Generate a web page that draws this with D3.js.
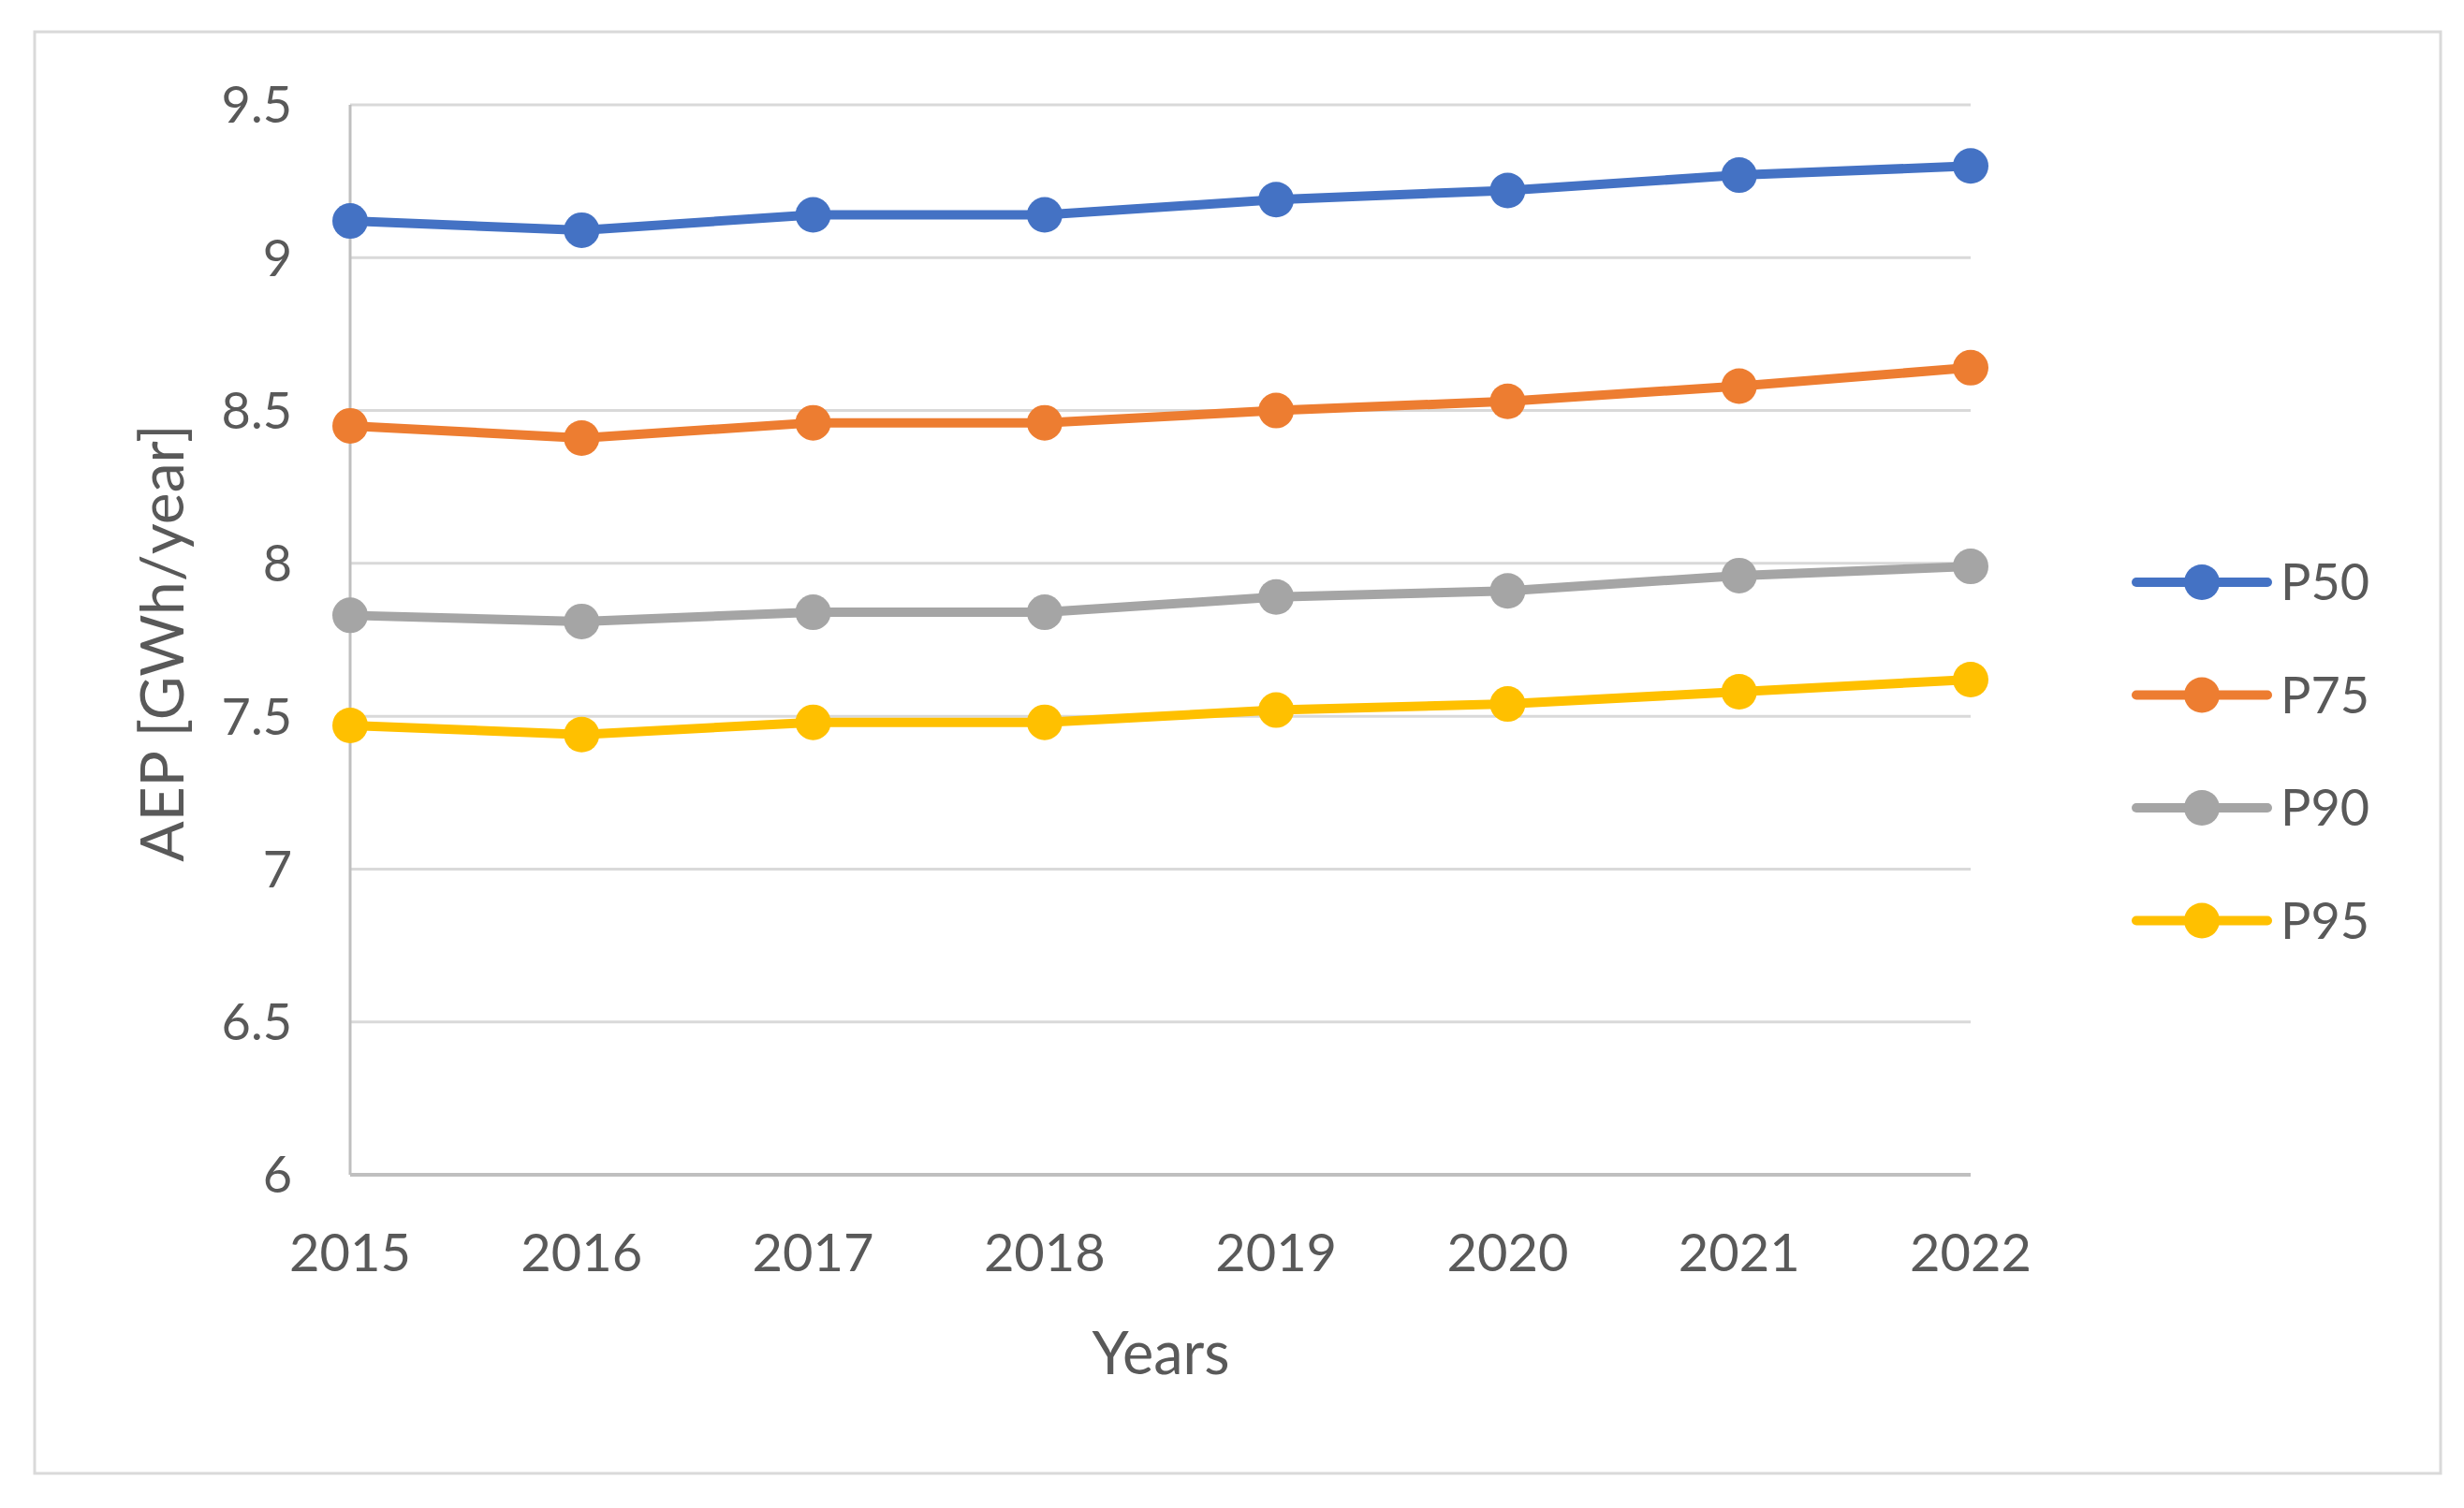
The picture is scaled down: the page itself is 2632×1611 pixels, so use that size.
<!DOCTYPE html>
<html>
<head>
<meta charset="utf-8">
<script src="https://cdn.jsdelivr.net/npm/d3@7"></script>
<style>
  body { margin: 0; background: #fff; }
  text { font-family: Lato, "Open Sans", sans-serif; fill: #595959; }
</style>
</head>
<body>
<script>
var years = ["2015", "2016", "2017", "2018", "2019", "2020", "2021", "2022"];
var seriesNames = ["P50", "P75", "P90", "P95"];
var p50 = [9.12, 9.09, 9.14, 9.14, 9.19, 9.22, 9.27, 9.30];
var p75 = [8.45, 8.41, 8.46, 8.46, 8.50, 8.53, 8.58, 8.64];
var p90 = [7.83, 7.81, 7.84, 7.84, 7.89, 7.91, 7.96, 7.99];
var p95 = [7.47, 7.44, 7.48, 7.48, 7.52, 7.54, 7.58, 7.62];
var yTicks = [6, 6.5, 7, 7.5, 8, 8.5, 9, 9.5];

var width = 2632, height = 1611;
var colors = ["#4472C4", "#ED7D31", "#A5A5A5", "#FFC000"];
var allSeries = [p50, p75, p90, p95];

const svg = d3.select("body").append("svg")
  .attr("width", width)
  .attr("height", height);

svg.append("rect")
  .attr("width", width)
  .attr("height", height)
  .attr("fill", "white");

// chart border
svg.append("rect")
  .attr("x", 37).attr("y", 34)
  .attr("width", 2570).attr("height", 1540)
  .attr("fill", "none")
  .attr("stroke", "#d9d9d9")
  .attr("stroke-width", 3);

var x = d3.scalePoint().domain(years).range([374, 2105]);
var y = d3.scaleLinear().domain([6, 9.5]).range([1255, 112]);

// gridlines
svg.append("g")
  .selectAll("line")
  .data(yTicks.filter(d => d != 6))
  .join("line")
  .attr("x1", 374).attr("x2", 2105)
  .attr("y1", d => y(d)).attr("y2", d => y(d))
  .attr("stroke", "#d9d9d9")
  .attr("stroke-width", 3);

// axis lines
svg.append("line")
  .attr("x1", 374).attr("x2", 374)
  .attr("y1", y(9.5)).attr("y2", y(6))
  .attr("stroke", "#bfbfbf").attr("stroke-width", 3);
svg.append("line")
  .attr("x1", 374).attr("x2", 2105)
  .attr("y1", y(6)).attr("y2", y(6))
  .attr("stroke", "#bfbfbf").attr("stroke-width", 4);

// y tick labels
svg.append("g")
  .selectAll("text")
  .data(yTicks)
  .join("text")
  .attr("x", 312)
  .attr("y", d => y(d))
  .attr("dy", "0.36em")
  .attr("text-anchor", "end")
  .attr("font-size", 54)
  .text(d => d);

// x tick labels
svg.append("g")
  .selectAll("text")
  .data(years)
  .join("text")
  .attr("x", d => x(d))
  .attr("y", 1358)
  .attr("text-anchor", "middle")
  .attr("font-size", 56)
  .text(d => d);

// axis titles
svg.append("text")
  .attr("x", 1240).attr("y", 1468)
  .attr("text-anchor", "middle")
  .attr("font-size", 63)
  .text("Years");
svg.append("text")
  .attr("transform", "translate(196,687) rotate(-90)")
  .attr("text-anchor", "middle")
  .attr("font-size", 64)
  .text("AEP [GWh/year]");

// lines + markers
var line = d3.line()
  .x((d, i) => x(years[i]))
  .y(d => y(d));

allSeries.forEach(function (s, k) {
  svg.append("path")
    .datum(s)
    .attr("d", line)
    .attr("fill", "none")
    .attr("stroke", colors[k])
    .attr("stroke-width", 10)
    .attr("stroke-linejoin", "round");
  svg.append("g")
    .selectAll("circle")
    .data(s)
    .join("circle")
    .attr("cx", (d, i) => x(years[i]))
    .attr("cy", d => y(d))
    .attr("r", 19)
    .attr("fill", colors[k]);
});

// legend
var lg = svg.append("g");
seriesNames.forEach(function (name, k) {
  var ly = 622 + k * 120.5;
  lg.append("line")
    .attr("x1", 2282).attr("x2", 2422)
    .attr("y1", ly).attr("y2", ly)
    .attr("stroke", colors[k])
    .attr("stroke-width", 10)
    .attr("stroke-linecap", "round");
  lg.append("circle")
    .attr("cx", 2352).attr("cy", ly)
    .attr("r", 19)
    .attr("fill", colors[k]);
  lg.append("text")
    .attr("x", 2436).attr("y", ly)
    .attr("dy", "0.36em")
    .attr("font-size", 54)
    .text(name);
});
</script>
</body>
</html>
